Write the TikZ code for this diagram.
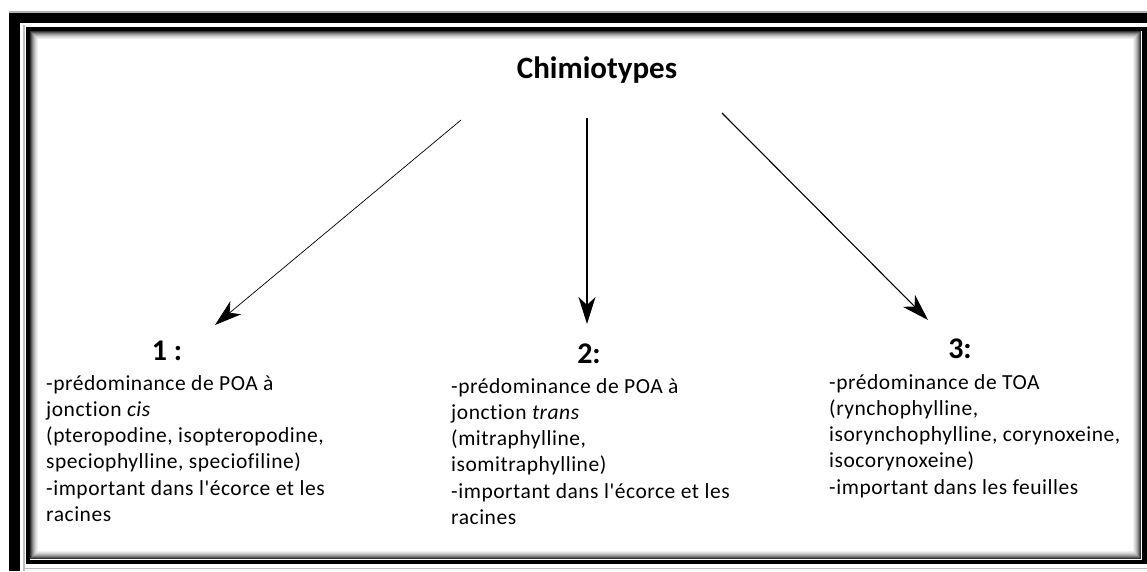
\documentclass[tikz,border=0pt]{standalone}
\usepackage{fontspec}
\setmainfont{Carlito}[Ligatures={ResetAll,NoCommon}]
\newfontfamily\bodyfont{Carlito}[Ligatures={ResetAll,NoCommon},LetterSpace=2.5]
\usetikzlibrary{arrows.meta}
\tikzset{
  body/.style={anchor=base west, inner sep=0pt, font=\bodyfont\fontsize{21.5}{26.3}\selectfont},
  head/.style={anchor=base, inner sep=0pt, font=\fontsize{30}{32}\selectfont\bfseries},
  title/.style={anchor=base, inner sep=0pt, font=\fontsize{31}{34}\selectfont\bfseries},
  arr/.style={-{Stealth[length=27pt,width=17pt,inset=8pt]}, draw=black}
}
\newcommand{\blk}[1]{\begin{tabular}[t]{@{}l@{}}#1\end{tabular}}
\newcommand{\apos}{\char"0027\relax}
\begin{document}
\begin{tikzpicture}[x=1pt,y=-1pt]
\useasboundingbox (0,0) rectangle (1147,571);
\fill[white] (0,0) rectangle (1147,571);
% outer frame
\fill[gray!60] (9,11) rectangle (1147,12.5);
\fill[black] (9,12.5) rectangle (1147,23);
\fill[black] (9,12.5) rectangle (20,571);
\fill[gray!50] (23,25) rectangle (24.5,571);
\fill[gray!50] (23,567.5) rectangle (1147,569);
% inner frame with shading
\foreach \i/\c in {0/80,1/65,2/50,3/38,4/28,5/19,6/12,7/6}{
  \draw[black!\c, line width=1pt] (30.5+\i,31.5+\i) rectangle (1140.5-\i,558.5-\i);
}
\draw[black, line width=4.5pt] (27.75,28.75) rectangle (1144.25,561.75);
% title
\node[title] (t) at (597,78) {Chimiotypes};
% headings
\node[head] (h1) at (167,360) {1 :};
\node[head] (h2) at (589,363) {2:};
\node[head] (h3) at (960,358) {3:};
% text blocks
\node[body] (b1) at (46,390) {\blk{-prédominance de POA à\\ jonction \textit{cis}\\ (pteropodine, isopteropodine,\\ speciophylline, speciofiline)\\ -important dans l\apos écorce et les\\ racines}};
\node[body] (b2) at (451,393) {\blk{-prédominance de POA à\\ jonction \textit{trans}\\ (mitraphylline,\\ isomitraphylline)\\ -important dans l\apos écorce et les\\ racines}};
\node[body] (b3) at (829,389) {\blk{-prédominance de TOA\\ (rynchophylline,\\ isorynchophylline, corynoxeine,\\ isocorynoxeine)\\ -important dans les feuilles}};
% arrows
\coordinate (s1) at (461,120);
\coordinate (s2) at (587,118);
\coordinate (s3) at (722,113);
\coordinate (e1) at (215,325);
\coordinate (e2) at (587,324);
\coordinate (e3) at (928,320);
\draw[arr, line width=0.7pt] (s1) -- (e1);
\draw[arr, line width=1.4pt] (s2) -- (e2);
\draw[arr, line width=1.1pt] (s3) -- (e3);
\end{tikzpicture}
\end{document}
